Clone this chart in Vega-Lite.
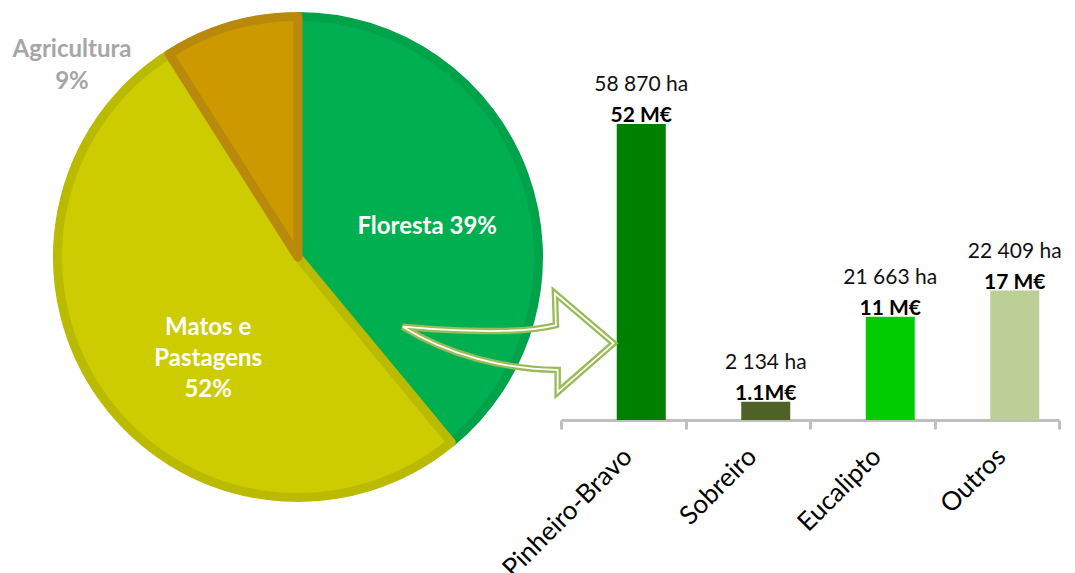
{
  "$schema": "https://vega.github.io/schema/vega-lite/v6.json",
  "autosize": "pad",
  "padding": {"left": 12, "top": 12, "right": 0, "bottom": 0},
  "background": "white",
  "bounds": "flush",
  "spacing": 18,
  "config": {"view": {"stroke": null}, "font": "Lato"},
  "hconcat": [
    {
      "width": 490,
      "height": 490,
      "data": {
        "values": [
          {"uso": "Floresta", "pct": 39, "ordem": 1, "rotulo": "Floresta 39%"},
          {"uso": "Matos e Pastagens", "pct": 52, "ordem": 2, "rotulo": "Matos e\nPastagens\n52%"},
          {"uso": "Agricultura", "pct": 9, "ordem": 3, "rotulo": "Agricultura\n9%"}
        ]
      },
      "encoding": {
        "theta": {"field": "pct", "type": "quantitative", "stack": true},
        "order": {"field": "ordem", "type": "quantitative"}
      },
      "layer": [
        {
          "mark": {"type": "arc", "outerRadius": 240.5, "strokeWidth": 9, "strokeJoin": "round"},
          "encoding": {
            "fill": {"field": "uso", "type": "nominal", "legend": null,
              "scale": {"domain": ["Floresta", "Matos e Pastagens", "Agricultura"], "range": ["#00b050", "#cccc00", "#cc9900"]}},
            "stroke": {"field": "uso", "type": "nominal", "legend": null,
              "scale": {"domain": ["Floresta", "Matos e Pastagens", "Agricultura"], "range": ["#00a24a", "#baba00", "#b8890a"]}}
          }
        },
        {
          "mark": {"type": "text", "radius": 132, "dx": 5, "dy": 15, "font": "Lato", "fontSize": 24, "fontWeight": "bold", "fill": "white"},
          "encoding": {"text": {"condition": {"test": "datum.uso === 'Floresta'", "field": "rotulo", "type": "nominal"}, "value": ""}}
        },
        {
          "mark": {"type": "text", "radius": 111, "dx": 0, "dy": 6, "font": "Lato", "fontSize": 24, "fontWeight": "bold", "fill": "white", "lineBreak": "\n", "lineHeight": 31},
          "encoding": {"text": {"condition": {"test": "datum.uso === 'Matos e Pastagens'", "field": "rotulo", "type": "nominal"}, "value": ""}}
        },
        {
          "mark": {"type": "text", "radius": 0, "dx": -226, "dy": -207, "font": "Lato", "fontSize": 24, "fontWeight": "bold", "fill": "#a6a6a6", "lineBreak": "\n", "lineHeight": 32},
          "encoding": {"text": {"condition": {"test": "datum.uso === 'Agricultura'", "field": "rotulo", "type": "nominal"}, "value": ""}}
        }
      ]
    },
    {
      "width": 498,
      "height": 408,
      "data": {
        "values": [
          {"especie": "Pinheiro-Bravo", "area_ha": 58870, "rotulo_ha": "58 870 ha", "valor_meur": 52, "rotulo_valor": "52 M€", "altura_rel": 100},
          {"especie": "Sobreiro", "area_ha": 2134, "rotulo_ha": "2 134 ha", "valor_meur": 1.1, "rotulo_valor": "1.1M€", "altura_rel": 6.2},
          {"especie": "Eucalipto", "area_ha": 21663, "rotulo_ha": "21 663 ha", "valor_meur": 11, "rotulo_valor": "11 M€", "altura_rel": 34.9},
          {"especie": "Outros", "area_ha": 22409, "rotulo_ha": "22 409 ha", "valor_meur": 17, "rotulo_valor": "17 M€", "altura_rel": 43.7}
        ]
      },
      "encoding": {
        "x": {
          "field": "especie", "type": "nominal", "sort": null,
          "scale": {"paddingInner": 0, "paddingOuter": 0},
          "axis": {
            "title": null, "labelAngle": -45, "labelFont": "Lato", "labelFontSize": 26, "labelColor": "#000000",
            "domainColor": "#bfbfbf", "domainWidth": 3, "tickColor": "#bfbfbf", "tickWidth": 3, "tickSize": 9,
            "tickBand": "extent", "labelPadding": 14, "labelOffset": -5
          }
        },
        "y": {"field": "altura_rel", "type": "quantitative", "scale": {"domain": [0, 137.8]}, "axis": null}
      },
      "layer": [
        {
          "mark": {"type": "bar", "width": 49, "xOffset": 18},
          "encoding": {
            "color": {"field": "especie", "type": "nominal", "legend": null,
              "scale": {"domain": ["Pinheiro-Bravo", "Sobreiro", "Eucalipto", "Outros"], "range": ["#008000", "#4f6228", "#00cc00", "#bbcf96"]}}
          }
        },
        {
          "mark": {"type": "text", "xOffset": 18, "dy": -39, "font": "Lato", "fontSize": 21, "fill": "#111111"},
          "encoding": {"text": {"field": "rotulo_ha", "type": "nominal"}}
        },
        {
          "mark": {"type": "text", "xOffset": 18, "dy": -8, "font": "Lato", "fontSize": 21, "fontWeight": "bold", "fill": "#000000"},
          "encoding": {"text": {"field": "rotulo_valor", "type": "nominal"}}
        },
        {
          "transform": [{"filter": "datum.especie === 'Pinheiro-Bravo'"}],
          "mark": {"type": "point", "shape": "M-220.5,-16.3 C-170,-12 -105,-8 -67.3,-18 L-68.3,-49.7 L-9.6,0.3 L-65.6,49.3 L-65.6,27 C-120,26 -175,12 -220.5,-16.3 Z", "size": 4, "filled": false, "opacity": 1, "stroke": "#9bbb59", "strokeWidth": 6.5, "strokeJoin": "miter"},
          "encoding": {"y": {"datum": 26, "type": "quantitative"}}
        },
        {
          "transform": [{"filter": "datum.especie === 'Pinheiro-Bravo'"}],
          "mark": {"type": "point", "shape": "M-220.5,-16.3 C-170,-12 -105,-8 -67.3,-18 L-68.3,-49.7 L-9.6,0.3 L-65.6,49.3 L-65.6,27 C-120,26 -175,12 -220.5,-16.3 Z", "size": 4, "filled": false, "opacity": 1, "stroke": "#ffffff", "strokeWidth": 1.8, "strokeJoin": "miter"},
          "encoding": {"y": {"datum": 26, "type": "quantitative"}}
        }
      ]
    }
  ]
}
